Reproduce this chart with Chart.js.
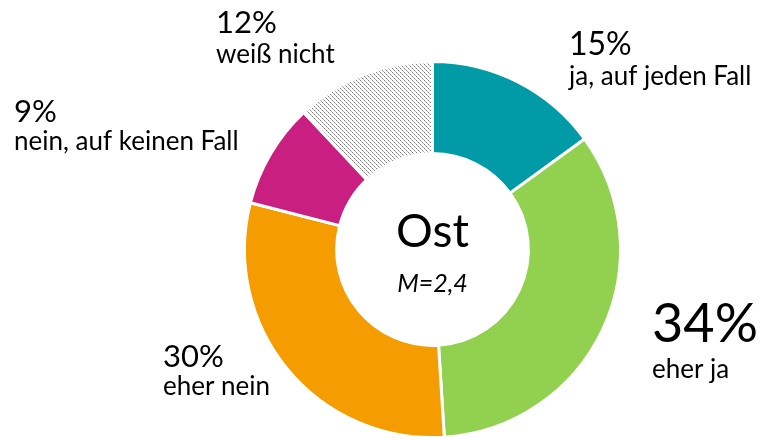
<!DOCTYPE html>
<html>
<head>
<meta charset="utf-8">
<script src="https://cdn.jsdelivr.net/npm/chart.js@4.4.1/dist/chart.umd.min.js"></script>
<style>
html,body{margin:0;padding:0;background:#fff;}
#wrap{width:761px;height:439px;position:relative;}
</style>
</head>
<body>
<div id="wrap"><canvas id="c" width="761" height="439"></canvas></div>
<script>
const categories = ["ja, auf jeden Fall", "eher ja", "eher nein", "nein, auf keinen Fall", "weiß nicht"];
const values = [15, 34, 30, 9, 12];
const percentLabels = ["15%", "34%", "30%", "9%", "12%"];
const centerTitle = "Ost";
const centerSub = "M=2,4";

function hatch() {
  const p = document.createElement('canvas');
  p.width = 4; p.height = 4;
  const g = p.getContext('2d');
  g.fillStyle = '#ffffff';
  g.fillRect(0, 0, 4, 4);
  for (let y = 0; y < 4; y++) {
    for (let x = 0; x < 4; x++) {
      if (((x - y) % 4 + 4) % 4 === 0) {
        g.fillStyle = (x % 2 === 0) ? '#7a7a7a' : '#b0b0b0';
        g.fillRect(x, y, 1, 1);
      }
    }
  }
  return document.getElementById('c').getContext('2d').createPattern(p, 'repeat');
}

const colors = ['#009BA6', '#92D050', '#F59C00', '#C81F81', hatch()];

const FONT = 'Lato, "Open Sans", sans-serif';
// label layout: [x, yPct, pctSize, yText, textSize]
const labelPos = [
  [569, 55, 32, 85, 26],
  [652, 342, 54, 378, 26],
  [163, 367, 31, 395, 26],
  [14, 122, 31, 150, 26],
  [216, 33, 31, 63, 26]
];

const labelsPlugin = {
  id: 'labels',
  afterDraw(chart) {
    const ctx = chart.ctx;
    ctx.save();
    ctx.fillStyle = '#000';
    ctx.textAlign = 'left';
    ctx.textBaseline = 'alphabetic';
    categories.forEach((c, i) => {
      const [x, y1, s1, y2, s2] = labelPos[i];
      ctx.font = s1 + 'px ' + FONT;
      ctx.fillText(percentLabels[i], x, y1);
      ctx.font = s2 + 'px ' + FONT;
      ctx.fillText(c, x, y2);
    });
    const meta = chart.getDatasetMeta(0).data[0];
    const cx = meta.x, cy = meta.y;
    ctx.textAlign = 'center';
    ctx.font = '46px ' + FONT;
    ctx.fillText(centerTitle, cx, cy - 3);
    ctx.font = 'italic 25px ' + FONT;
    ctx.fillText(centerSub, cx, cy + 42);
    ctx.restore();
  }
};

new Chart(document.getElementById('c'), {
  type: 'doughnut',
  data: {
    labels: categories,
    datasets: [{
      data: values,
      backgroundColor: colors,
      borderColor: '#ffffff',
      borderWidth: 3
    }]
  },
  options: {
    responsive: false,
    animation: false,
    cutout: '51%',
    rotation: 0,
    layout: { padding: { left: 243, right: 139, top: 60, bottom: 0 } },
    plugins: { legend: { display: false }, tooltip: { enabled: false } }
  },
  plugins: [labelsPlugin]
});
</script>
</body>
</html>
